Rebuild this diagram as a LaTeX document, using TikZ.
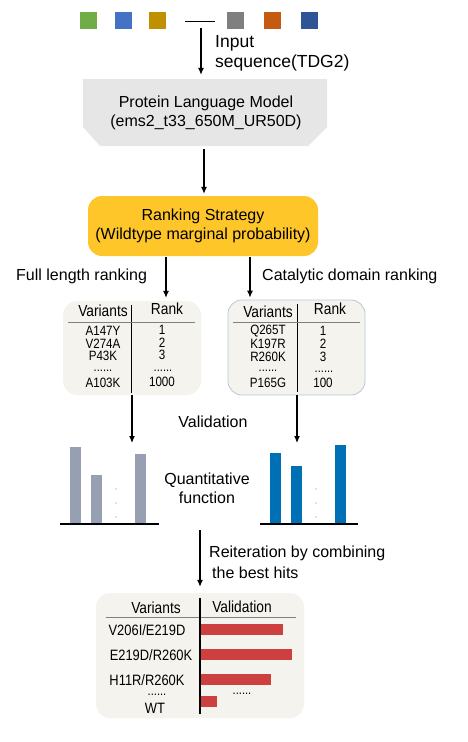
\documentclass[tikz,border=0pt]{standalone}
\usepackage{fontspec}
\setmainfont{Liberation Sans}
\newfontfamily\narrowsf[FakeStretch=0.86]{Liberation Sans}
\usepackage{tikz}
\usetikzlibrary{arrows.meta,positioning}
\definecolor{sqgreen}{HTML}{70AD47}
\definecolor{sqblue}{HTML}{4472C4}
\definecolor{sqgold}{HTML}{BF9000}
\definecolor{sqgray}{HTML}{7F7F7F}
\definecolor{sqrust}{HTML}{C55A11}
\definecolor{sqnavy}{HTML}{2F5597}
\definecolor{plmgray}{HTML}{E6E6E6}
\definecolor{rankyellow}{HTML}{FFC62A}
\definecolor{tabbg}{HTML}{F4F3EE}
\definecolor{tabedge}{HTML}{B9C6DA}
\definecolor{bargray}{HTML}{97A0B2}
\definecolor{barblue}{HTML}{0070B6}
\definecolor{barred}{HTML}{CC4040}
\newcommand{\tabdots}{......}

\begin{document}
\begin{tikzpicture}[x=1pt, y=-1pt, font=\fontsize{16}{19}\selectfont,
    every node/.style={inner sep=0pt},
    sq/.style={fill=#1, minimum size=17pt},
    arr/.style={-{Latex[length=7pt,width=6pt]}, line width=1.1pt},
    tab/.style={fill=tabbg, rounded corners=14pt},
    head/.style={font=\narrowsf\fontsize{16}{16}\selectfont},
    cell/.style={font=\narrowsf\fontsize{13.5}{13.5}\selectfont},
    row/.style={font=\narrowsf\fontsize{15}{15}\selectfont},
    dotrow/.style={anchor=base, font=\narrowsf\fontsize{13}{13}\selectfont}]
\useasboundingbox (0,0) rectangle (468,742);

\node[sq=sqgreen] (s1) at (88.5,20.5) {};
\node[sq=sqblue] (s2) at (123.5,20.5) {};
\node[sq=sqgold] (s3) at (157.5,20.5) {};
\node[sq=sqgray] (s4) at (235.5,20.5) {};
\node[sq=sqrust] (s5) at (272.5,20.5) {};
\node[sq=sqnavy] (s6) at (309.5,20.5) {};
\coordinate (gapL) at (185,21);
\coordinate (gapR) at (215,21);
\draw[line width=1pt] (gapL) -- (gapR);
\coordinate (seq) at (201,28);

\fill[plmgray] (83,79) -- (327,79) -- (327,127) -- (308,146) -- (100,146) -- (83,127) -- cycle;
\node[align=center, minimum width=244pt, minimum height=67pt] (plm) at (206,112.5)
    {Protein Language Model\\(ems2\_t33\_650M\_UR50D)};
\draw[arr, shorten >=4pt] (seq) -- (seq |- plm.north);
\node[anchor=west, align=left, font=\fontsize{17.5}{20}\selectfont] (inp) at (215,53)
    {Input\\sequence(TDG2)};

\node[fill=rankyellow, rounded corners=14pt, minimum width=230pt, minimum height=60pt,
    align=center] (rank) at (203,226) {Ranking Strategy\\(Wildtype marginal probability)};
\draw[arr, shorten <=3pt, shorten >=2pt] ([xshift=-2pt]plm.south) -- ([xshift=-2pt]plm.south |- rank.north);

\node[anchor=west] (fll) at (16,276) {Full length ranking};
\node[anchor=west] (cdl) at (262,276) {Catalytic domain ranking};

% ranking tables
\node[tab, minimum width=138pt, minimum height=94pt] (tabL) at (132,348) {};
\node[tab, draw=tabedge, line width=0.8pt, minimum width=137pt, minimum height=95pt] (tabR) at (296.5,347.5) {};
\draw[arr, shorten <=1pt, shorten >=3pt] ([xshift=-37pt]rank.south) -- ([xshift=-37pt]rank.south |- tabL.north);
\draw[arr, shorten <=1pt, shorten >=2pt] ([xshift=47pt]rank.south) -- ([xshift=47pt]rank.south |- tabR.north);

\node[head] (hvL) at (103,311) {Variants};
\node[head] (hrL) at (167,309) {Rank};
\draw[line width=0.8pt] (131,305) -- (131,393);
\draw[line width=0.6pt, gray] (68,322) -- (195,322);
\foreach \v/\r/\y [count=\i] in {A147Y/1/331, V274A/2/344, P43K/3/356, A103K/1000/383}
  {\node[cell] (vL\i) at (103,\y) {\v};
   \node[cell] (rL\i) at (162,\y-1) {\r};}
\node[dotrow] (vLd) at (103,371) {\tabdots};
\node[dotrow] (rLd) at (163,371) {\tabdots};

\node[head] (hvR) at (268,312) {Variants};
\node[head] (hrR) at (330,309) {Rank};
\draw[line width=0.8pt] (297,304) -- (297,392);
\draw[line width=0.6pt, gray] (233,322) -- (360,322);
\foreach \v/\r/\y [count=\i] in {Q265T/1/331, K197R/2/344, R260K/3/357, P165G/100/383}
  {\node[cell] (vR\i) at (268,\y) {\v};
   \node[cell] (rR\i) at (323,\y) {\r};}
\node[dotrow] (vRd) at (268,371) {\tabdots};
\node[dotrow] (rRd) at (324,372) {\tabdots};

% validation charts
\coordinate (chL) at (132,443);
\coordinate (chR) at (297,443);
\draw[arr] (tabL.south) -- (chL);
\draw[arr] (tabR.south -| chR) -- (chR);
\node (val) at (213,422) {Validation};

\fill[bargray] (70,447) rectangle (81,524);
\fill[bargray] (91,475) rectangle (102,524);
\fill[bargray] (135,454) rectangle (146,524);
\draw[line width=1.2pt] (60,524) -- (159,524);
\fill[barblue] (270,453) rectangle (281,524);
\fill[barblue] (291,466) rectangle (302,524);
\fill[barblue] (335,445) rectangle (346,524);
\draw[line width=1.2pt] (260,524) -- (358,524);
\foreach \y in {489,503,517}
  {\fill[gray] (116,\y) circle (0.6pt);
   \fill[gray] (316,\y) circle (0.6pt);}
\node[align=center] (qf) at (207,488) {Quantitative\\function};

% best hits
\node[tab, minimum width=208pt, minimum height=125pt] (tabB) at (200,655.5) {};
\coordinate (rit) at (200,530);
\draw[arr, shorten >=6pt] (rit) -- (rit |- tabB.north);
\node[anchor=west] (rt1) at (209,553) {Reiteration by combining};
\node[anchor=west] (rt2) at (212,573) {the best hits};

\node[head] (hvB) at (156,608) {Variants};
\node[head] (hvaB) at (242,607) {Validation};
\draw[line width=0.6pt, gray] (106,617) -- (296,617);
\foreach \v/\y/\x/\w [count=\i] in {{V206I/E219D}/630/147/283, {E219D/R260K}/655/151/292, {H11R/R260K}/680/147/271}
  {\node[row] (vB\i) at (\x,\y) {\v};
   \fill[barred] (201,\y-6) rectangle (\w,\y+5);}
\node[dotrow] (vBd) at (157,695) {\tabdots};
\node[row] (vBwt) at (155,708) {WT};
\fill[barred] (201,696) rectangle (217,707);
\node[dotrow] (dB) at (242,694) {\tabdots};
\draw[line width=1.3pt] (200,598) -- (200,714);
\end{tikzpicture}
\end{document}
